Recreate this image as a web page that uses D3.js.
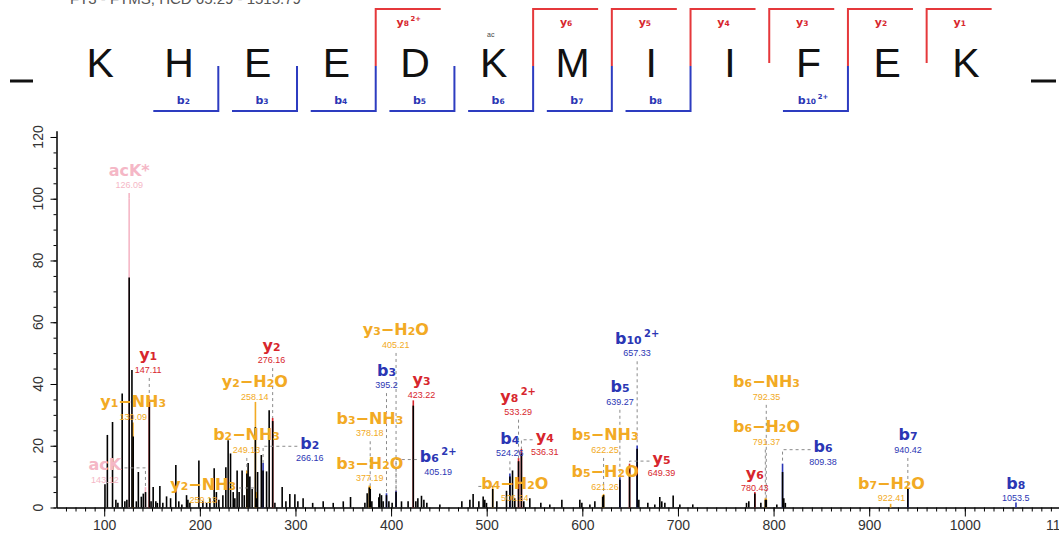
<!DOCTYPE html>
<html>
<head>
<meta charset="utf-8">
<script src="https://cdn.jsdelivr.net/npm/d3@7"></script>
<style>
body { margin: 0; background: #fff; }
svg { display: block; }
</style>
</head>
<body>
<svg id="chart" width="1059" height="537"></svg>
<script>
// peptide and fragment coverage
var sequence = ['K', 'H', 'E', 'E', 'D', 'K', 'M', 'I', 'I', 'F', 'E', 'K'];
var modSite = 5; // acetylated K
var bSeen = [2, 3, 4, 5, 6, 7, 8, 10];
var bCharge = [1, 1, 1, 1, 1, 1, 1, 2];
var ySeen = [1, 2, 3, 4, 5, 6, 8];
var yCharge = [1, 1, 1, 1, 1, 1, 2];

// annotated ions
var ionName = ['acK*', 'acK', 'y_1', 'y_1-NH_3', 'y_2', 'y_2-H_2O', 'y_2-NH_3', 'b_2-NH_3', 'b_2',
  'b_3-H_2O', 'b_3-NH_3', 'b_3', 'y_3-H_2O', 'b_6^2+', 'y_3', 'b_4-H_2O', 'b_4', 'y_8^2+', 'y_4',
  'b_5-H_2O', 'b_5-NH_3', 'b_5', 'y_5', 'b_10^2+', 'y_6', 'b_6-H_2O', 'b_6-NH_3', 'b_6',
  'b_7-H_2O', 'b_7', 'b_8'];
var ionType = ['ack', 'ack', 'y', 'loss', 'y', 'loss', 'loss', 'loss', 'b',
  'loss', 'loss', 'b', 'loss', 'b', 'y', 'loss', 'b', 'y', 'y',
  'loss', 'loss', 'b', 'y', 'b', 'y', 'loss', 'loss', 'b',
  'loss', 'b', 'b'];
var ionMz = [126.09, 143.12, 147.11, 130.09, 276.16, 258.14, 259.13, 249.13, 266.16,
  377.19, 378.18, 395.2, 405.21, 405.19, 423.22, 506.24, 524.26, 533.29, 536.31,
  621.26, 622.25, 639.27, 649.39, 657.33, 780.43, 791.37, 792.35, 809.38,
  922.41, 940.42, 1053.5];
var ionInt = [100, 6.6, 35, 27.5, 29, 34.2, 5, 12, 14.4,
  7.1, 7, 4.6, 5.5, 5.5, 34.7, 7, 11, 16, 19,
  4, 4.4, 9.8, 14.2, 20.1, 5, 3, 3, 14.2,
  1.2, 6.3, 1.6];

// where each ion label sits, in m/z and intensity units
var labelMz = [126.09, 100.7, 145.96, 130.27, 274.99, 257.53, 203.47, 248.85, 315.05,
  377.79, 377.79, 395.25, 404.98, 449.2, 431.85, 529.42, 524.19, 532.87, 560.79,
  623.81, 623.81, 639.5, 682.8, 657.29, 780.4, 792.6, 792.6, 851.8,
  923.3, 940.7, 1053.3];
var labelInt = [109.3, 13.8, 49.4, 34.3, 52.6, 40.7, 7.3, 23.5, 20.8,
  14.3, 28.9, 44.5, 57.5, 16.5, 41.3, 7.8, 22.4, 35.9, 22.9,
  11.6, 23.5, 39.1, 16.0, 54.8, 11.1, 26.2, 40.7, 19.7,
  7.8, 23.5, 7.8];

// all the other peaks (black)
var peakMz = [100.8, 103.3, 108.7, 112.2, 114.3, 118.8, 121.6, 123.7, 126.1, 129.0, 130.3, 133.6,
  135.7, 138.8, 140.9, 143.2, 147.2, 149.0, 151.2, 154.0, 155.6, 158.2, 161.3, 165.2, 169.4,
  174.9, 178.0, 181.2, 186.1, 187.5, 189.6, 199.0, 203.2, 207.1, 210.5, 215.0, 217.3, 219.9,
  224.1, 227.2, 229.6, 232.1, 234.9, 236.6, 239.0, 241.1, 244.2, 246.5, 249.2, 250.5, 252.3,
  254.7, 258.1, 259.2, 260.4, 264.3, 266.1, 269.8, 272.5, 276.2, 278.5, 286.1, 290.0, 294.1,
  299.4, 302.5, 308.0, 318.0, 329.0, 339.5, 350.0, 357.6, 372.6, 375.0, 377.2, 378.2, 379.9,
  387.2, 388.2, 390.0, 391.7, 395.2, 397.7, 401.1, 405.2, 410.9, 417.8, 423.2, 425.9, 428.0,
  431.8, 434.3, 437.4, 451.0, 474.0, 482.4, 485.8, 491.8, 496.3, 498.0, 499.8, 506.3, 510.6,
  520.7, 524.3, 527.0, 529.4, 533.3, 536.3, 538.8, 545.1, 556.6, 566.0, 578.6, 597.4, 599.5,
  607.9, 613.1, 621.3, 622.3, 639.3, 649.4, 657.3, 659.1, 668.5, 675.8, 681.0, 683.1, 686.3,
  695.0, 702.0, 715.5, 771.7, 774.1, 780.4, 786.7, 791.4, 792.4, 803.4, 809.4, 810.7, 812.3,
  940.4];
var peakInt = [7.5, 23.5, 27.7, 2.5, 1.5, 36.9, 2, 2.5, 74.5, 44.5, 23, 2,
  11.5, 3.5, 4.5, 5, 34.5, 2, 6.6, 2, 1.5, 7, 1.5, 3.6, 3,
  13.8, 2, 1, 4, 2.5, 1.5, 15.2, 2, 1.5, 3, 12.7, 5, 2.5,
  4, 13, 21.8, 17.5, 5, 3, 12, 5, 12, 4, 11, 14.4, 10,
  6, 26, 3, 11.5, 17, 12, 11.7, 31.5, 28, 1.5, 6.6, 2, 4.4,
  4.3, 2, 3, 1.5, 2, 1.5, 2, 3.4, 1.5, 4.6, 6.5, 6, 2,
  3.3, 4.5, 4, 2, 4, 2, 1.5, 5, 2, 2, 33, 2, 3,
  3.8, 2.5, 1.5, 1, 2, 2.5, 4.4, 2, 3.6, 2.5, 1.5, 6, 2,
  5.4, 10, 12, 3, 15, 17.5, 2, 3, 1.5, 1, 2.5, 2.5, 1.5,
  1, 2, 3.5, 4, 9, 13.5, 19, 2.5, 1.5, 1, 3.4, 2, 1.5,
  3.9, 1, 1, 1.5, 2, 4.5, 1.5, 2.5, 2.5, 1, 11.5, 3, 1.5,
  6];

var xTicks = d3.range(100, 1101, 100);
var yTicks = d3.range(0, 121, 20);

var colors = { b: '#2b36b4', y: '#d7262d', loss: '#f2aa24', ack: '#f5b7c6' };
var sans = 'Liberation Sans, Arial, sans-serif';
var bold = 'DejaVu Sans, Verdana, sans-serif';

var svg = d3.select('#chart');

var x = d3.scaleLinear().domain([50, 1110]).range([56.4, 1070]);
var y = d3.scaleLinear().domain([0, 122]).range([507.5, 130.8]);
var seqX = d3.scaleLinear().domain([0, sequence.length - 1]).range([100.25, 966]);

// write "y_2-H_2O" style names with small digits and charge
function addName(sel, s, size) {
	var parts = s.match(/_\d+|\^\d\+|[^_^]+/g);
	parts.forEach(function(p) {
		if (p[0] === '_') {
			sel.append('tspan').attr('font-size', size * 0.68).text(p.slice(1));
		} else if (p[0] === '^') {
			sel.append('tspan').attr('font-size', size * 0.62).attr('dx', size * 0.15)
				.attr('dy', -size * 0.42).text(p.slice(1));
		} else {
			sel.append('tspan').text(p.replace('-', '\u2212'));
		}
	});
}

// clipped header line
svg.append('text')
	.attr('x', 70).attr('y', 4)
	.attr('font-family', sans).attr('font-size', 15).attr('fill', '#555')
	.text('FT3 - FTMS, HCD  65.29 - 1515.79');

// sequence
svg.selectAll('.res')
	.data(sequence)
	.enter().append('text')
	.attr('class', 'res')
	.attr('x', function(d, i) { return seqX(i); })
	.attr('y', 77)
	.attr('text-anchor', 'middle')
	.attr('font-family', sans)
	.attr('font-size', 41)
	.attr('fill', '#111')
	.text(function(d) { return d; });

svg.append('text')
	.attr('x', seqX(modSite) - 3).attr('y', 37)
	.attr('text-anchor', 'middle')
	.attr('font-family', sans).attr('font-size', 7).attr('fill', '#444')
	.text('ac');

// end dashes
[[10, 33, 81], [1031, 1056, 81]].forEach(function(d) {
	svg.append('line')
		.attr('x1', d[0]).attr('x2', d[1]).attr('y1', d[2]).attr('y2', d[2])
		.attr('stroke', '#111').attr('stroke-width', 3);
});

var n = sequence.length;
var brackets = svg.append('g');

ySeen.forEach(function(k, i) {
	var bx = seqX(n - k - 0.5);
	var bottom = bSeen.indexOf(n - k) >= 0 ? 66 : 63;
	brackets.append('path')
		.attr('d', 'M' + (bx + 65) + ',9H' + bx + 'V' + bottom)
		.attr('fill', 'none').attr('stroke', '#e5383b').attr('stroke-width', 2);
	var t = brackets.append('text')
		.attr('x', bx + 33).attr('y', 26)
		.attr('text-anchor', 'middle')
		.attr('font-family', bold).attr('font-weight', 'bold').attr('font-size', 11)
		.attr('fill', '#d7262d');
	addName(t, 'y_' + k + (yCharge[i] > 1 ? '^' + yCharge[i] + '+' : ''), 11);
});

bSeen.forEach(function(k, i) {
	var bx = seqX(k - 0.5);
	brackets.append('path')
		.attr('d', 'M' + (bx - 65) + ',111H' + bx + 'V66')
		.attr('fill', 'none').attr('stroke', '#2d3cc0').attr('stroke-width', 2);
	var t = brackets.append('text')
		.attr('x', bx - 35).attr('y', 104)
		.attr('text-anchor', 'middle')
		.attr('font-family', bold).attr('font-weight', 'bold').attr('font-size', 11)
		.attr('fill', '#2b36b4');
	addName(t, 'b_' + k + (bCharge[i] > 1 ? '^' + bCharge[i] + '+' : ''), 11);
});

// axes
svg.append('g')
	.attr('transform', 'translate(0,507.5)')
	.call(d3.axisBottom(x).tickValues(d3.range(60, 1110, 10)).tickSize(4).tickSizeOuter(0).tickFormat(''));
var xAxis = svg.append('g')
	.attr('transform', 'translate(0,507.5)')
	.call(d3.axisBottom(x).tickValues(xTicks).tickSize(9).tickSizeOuter(0).tickPadding(4).tickFormat(d3.format('d')));
xAxis.selectAll('text')
	.attr('font-family', sans).attr('font-size', 14).attr('fill', '#333');

svg.append('g')
	.attr('transform', 'translate(56.5,0)')
	.call(d3.axisLeft(y).tickValues(d3.range(0, 121, 5)).tickSize(3).tickSizeOuter(0).tickFormat(''));
svg.append('g')
	.attr('transform', 'translate(56.5,0)')
	.call(d3.axisLeft(y).tickValues(yTicks).tickSize(6).tickSizeOuter(0).tickFormat(''));

svg.selectAll('.ylab')
	.data(yTicks)
	.enter().append('text')
	.attr('class', 'ylab')
	.attr('transform', function(d) { return 'translate(43,' + y(d) + ') rotate(-90)'; })
	.attr('text-anchor', 'middle')
	.attr('font-family', sans).attr('font-size', 14).attr('fill', '#333')
	.text(function(d) { return d; });

// annotated peaks (colour) under the raw peaks (black)
svg.append('g').selectAll('line')
	.data(ionMz)
	.enter().append('line')
	.attr('x1', function(d) { return x(d); })
	.attr('x2', function(d) { return x(d); })
	.attr('y1', y(0))
	.attr('y2', function(d, i) { return y(ionInt[i]); })
	.attr('stroke', function(d, i) { return colors[ionType[i]]; })
	.attr('stroke-width', 1.6);

svg.append('g').selectAll('line')
	.data(peakMz)
	.enter().append('line')
	.attr('x1', function(d) { return x(d); })
	.attr('x2', function(d) { return x(d); })
	.attr('y1', y(0))
	.attr('y2', function(d, i) { return y(peakInt[i]); })
	.attr('stroke', '#000')
	.attr('stroke-width', 1.6);

var conn = svg.append('g');

var labels = svg.append('g').selectAll('g')
	.data(ionName)
	.enter().append('g')
	.attr('transform', function(d, i) { return 'translate(' + x(labelMz[i]) + ',' + y(labelInt[i]) + ')'; });

labels.each(function(d, i) {
	var g = d3.select(this);
	var t = g.append('text')
		.attr('class', 'nm')
		.attr('y', 5.5)
		.attr('text-anchor', 'middle')
		.attr('font-family', bold).attr('font-weight', 'bold').attr('font-size', 16)
		.attr('fill', colors[ionType[i]]);
	addName(t, d, 16);
	g.append('text')
		.attr('y', 18)
		.attr('text-anchor', 'middle')
		.attr('font-family', sans).attr('font-size', 9)
		.attr('fill', colors[ionType[i]])
		.text(String(+ionMz[i].toFixed(2)));
});

// connectors from label to peak
labels.each(function(d, i) {
	var lx = x(labelMz[i]), ly = y(labelInt[i]);
	var px = x(ionMz[i]), py = y(ionInt[i]);
	var w = d3.select(this).select('.nm').node().getBBox().width;
	var pts, solid = false;
	if (Math.abs(lx - px) > 12) {
		var edge = lx > px ? lx - w / 2 - 3 : lx + w / 2 + 3;
		pts = [[edge, ly + 3], [px, ly + 3], [px, py]];
	} else {
		var top = ly + 23;
		if (top >= py - 1) return;
		pts = [[px, top], [px, py]];
		solid = ionType[i] === 'ack';
	}
	conn.append('path')
		.attr('d', d3.line()(pts))
		.attr('fill', 'none')
		.attr('stroke', solid ? colors.ack : '#8a8a8a')
		.attr('stroke-width', solid ? 1.6 : 1)
		.attr('stroke-dasharray', solid ? null : '3,3');
});
</script>
</body>
</html>
